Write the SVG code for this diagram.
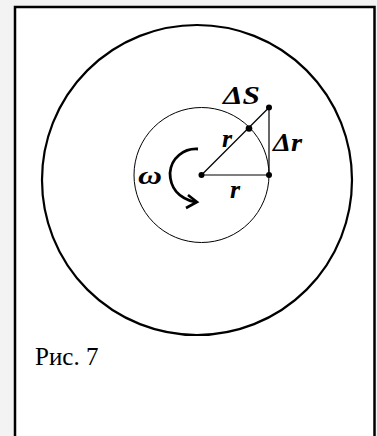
<svg xmlns="http://www.w3.org/2000/svg" width="377" height="436" viewBox="0 0 377 436">
<style>
.lbl{font-family:"Liberation Serif","Times New Roman",serif;font-weight:bold;font-style:italic;fill:#000}
.cap{font-family:"Liberation Serif","Times New Roman",serif;fill:#000}
.ln{stroke:#000;stroke-width:1.2;fill:none}
.dot{fill:#000}
</style>
<rect x="0" y="0" width="377" height="436" fill="#f3f3f3"/>
<rect id="frame" x="15" y="7" width="359.5" height="445" fill="#fff" stroke="#000" stroke-width="2.5"/>
<g id="outer-circle"><circle cx="197" cy="180" r="155" fill="none" stroke="#000" stroke-width="2.2"/></g>
<g id="inner-circle"><circle cx="201.5" cy="175" r="67.5" fill="none" stroke="#000" stroke-width="1"/></g>
<g id="connectors">
<line class="ln" x1="201.5" y1="175" x2="269" y2="175"/>
<line class="ln" x1="201.5" y1="175" x2="269" y2="107.5"/>
<line class="ln" x1="269" y1="107.5" x2="269" y2="175"/>
<path d="M198,149 C184,148 171,158 170,173 C170,187 178,198 195,202" fill="none" stroke="#000" stroke-width="2.8"/>
<polyline points="188,195 197,202 186,208" fill="none" stroke="#000" stroke-width="2.6" stroke-linejoin="miter"/>
</g>
<g id="points">
<circle class="dot" cx="201.5" cy="175" r="3"/>
<circle class="dot" cx="269" cy="175" r="3"/>
<circle class="dot" cx="269" cy="107.5" r="3"/>
<circle class="dot" cx="249" cy="128.5" r="3.3"/>
</g>
<g id="labels">
<text class="lbl" x="223" y="104" font-size="25" textLength="37" lengthAdjust="spacingAndGlyphs">ΔS</text>
<text class="lbl" x="273" y="151" font-size="25" textLength="29" lengthAdjust="spacingAndGlyphs">Δr</text>
<text class="lbl" x="222" y="147" font-size="26">r</text>
<text class="lbl" x="230" y="198" font-size="26">r</text>
<text class="lbl" x="138" y="184" font-size="25" textLength="24" lengthAdjust="spacingAndGlyphs">ω</text>
</g>
<text class="cap" x="35" y="365" font-size="25">Рис. 7</text>
</svg>
